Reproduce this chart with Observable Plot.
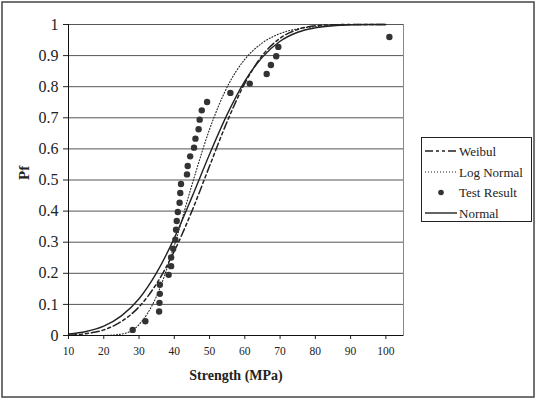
<!DOCTYPE html>
<html>
<head>
<meta charset="utf-8">
<script src="https://cdn.jsdelivr.net/npm/d3@7"></script>
<script src="https://cdn.jsdelivr.net/npm/@observablehq/plot@0.6"></script>
<style>
  html, body { margin: 0; padding: 0; background: #fff; }
  #chart svg { display: block; }
</style>
</head>
<body>
<div id="chart"></div>
<script>
// ---- data ----
const xTicks = [10, 20, 30, 40, 50, 60, 70, 80, 90, 100];
const yTicks = [0, 0.1, 0.2, 0.3, 0.4, 0.5, 0.6, 0.7, 0.8, 0.9, 1];

// Test results (strength MPa, probability of failure)
const testStrength = [28.2, 31.8, 35.7, 35.8, 35.9, 35.9, 38.4, 39.1, 39.1, 39.7,
  40.3, 40.5, 40.7, 41.0, 41.5, 41.7, 41.9, 43.6, 43.8, 44.5,
  45.6, 46.0, 46.9, 47.2, 47.8, 49.3, 55.9, 61.4, 66.2, 67.4,
  68.9, 69.5, 101.0];
const testPf = [0.018, 0.046, 0.077, 0.105, 0.134, 0.163, 0.195, 0.223, 0.251, 0.279,
  0.308, 0.340, 0.368, 0.397, 0.427, 0.458, 0.487, 0.518, 0.545, 0.576,
  0.604, 0.633, 0.663, 0.694, 0.724, 0.751, 0.780, 0.810, 0.841, 0.870,
  0.898, 0.928, 0.960];

// fitted curves read at these strengths
const curveX = [10, 15, 20, 25, 30, 35, 40, 45, 50, 55, 60, 65, 70, 75, 80, 85, 90, 95, 100];
const weibulPf = [0.001, 0.006, 0.018, 0.045, 0.092, 0.167, 0.271, 0.400, 0.545, 0.688,
  0.811, 0.901, 0.956, 0.984, 0.996, 0.999, 1.0, 1.0, 1.0];
const logNormalPf = [0.0, 0.0, 0.0002, 0.0045, 0.035, 0.127, 0.289, 0.484, 0.663, 0.799,
  0.888, 0.941, 0.971, 0.986, 0.993, 0.997, 0.999, 0.9994, 0.9997];
const normalPf = [0.005, 0.013, 0.030, 0.063, 0.118, 0.202, 0.313, 0.445, 0.583, 0.711,
  0.818, 0.895, 0.946, 0.975, 0.989, 0.996, 0.999, 1.0, 1.0];

const legendNames = ["Weibul", "Log Normal", "Test Result", "Normal"];

// ---- build tables ----
const points = testStrength.map((s, i) => ({x: s, y: testPf[i]}));
const weibul = curveX.map((x, i) => ({x, y: weibulPf[i]}));
const logNormal = curveX.map((x, i) => ({x, y: logNormalPf[i]}));
const normal = curveX.map((x, i) => ({x, y: normalPf[i]}));

const W = 536, H = 399;
const FONT = "Liberation Serif, Times New Roman, serif";

const chart = Plot.plot({
  width: W,
  height: H,
  marginLeft: 68,
  marginRight: 133,
  marginTop: 24,
  marginBottom: 64,
  style: {fontFamily: FONT, color: "#222", background: "#fff"},
  x: {domain: [10, 105]},
  y: {domain: [0, 1]},
  marks: [
    Plot.frame({stroke: "#888"}),
    Plot.ruleY(yTicks, {stroke: "#555", strokeWidth: 1}),
    Plot.line(normal, {x: "x", y: "y", stroke: "#222", strokeWidth: 1.4, curve: "monotone-x"}),
    Plot.line(logNormal, {x: "x", y: "y", stroke: "#222", strokeWidth: 1.1, strokeDasharray: "1,2", curve: "monotone-x"}),
    Plot.line(weibul, {x: "x", y: "y", stroke: "#222", strokeWidth: 1.5, strokeDasharray: "8,3,3,3,3,3", curve: "monotone-x"}),
    Plot.dot(points, {x: "x", y: "y", r: 3.2, fill: "#333", stroke: "none"}),
    Plot.axisX({ticks: xTicks, tickSize: 4, tickPadding: 7, fontSize: 11.5, label: null, tickFormat: d => String(d)}),
    Plot.axisY({ticks: yTicks, tickSize: 5, tickPadding: 5, fontSize: 16, label: null, tickFormat: d => d3.format("~g")(d)}),
    Plot.ruleX([10], {stroke: "#111", strokeWidth: 1}),
    Plot.ruleY([0], {stroke: "#111", strokeWidth: 1}),
    Plot.text(["Strength (MPa)"], {frameAnchor: "bottom", dy: 44, fontSize: 14, fontWeight: "bold"}),
    Plot.text(["Pf"], {frameAnchor: "left", dx: -44, rotate: -90, fontSize: 15, fontWeight: "bold"})
  ]
});

document.getElementById("chart").appendChild(chart);

const svg = d3.select(chart);
// outer chart border
svg.append("rect")
  .attr("x", 2).attr("y", 2).attr("width", W - 4).attr("height", H - 4)
  .attr("fill", "none").attr("stroke", "#444").attr("stroke-width", 1.5);

// legend
const lg = svg.append("g")
  .attr("font-family", FONT).attr("font-size", 13).attr("fill", "#222")
  .attr("text-anchor", "start");
lg.append("rect").attr("x", 421.5).attr("y", 137.5).attr("width", 110).attr("height", 84)
  .attr("fill", "#fff").attr("stroke", "#222").attr("stroke-width", 1);
const rowsY = [151, 172, 192.5, 213];
const styles = [
  {dash: "8,3,3,3,3,3", w: 1.5},
  {dash: "1,2", w: 1.1},
  null,
  {dash: null, w: 1.4}
];
legendNames.forEach((name, i) => {
  const y = rowsY[i];
  if (styles[i]) {
    const l = lg.append("line").attr("x1", 425).attr("x2", 457).attr("y1", y).attr("y2", y)
      .attr("stroke", "#222").attr("stroke-width", styles[i].w);
    if (styles[i].dash) l.attr("stroke-dasharray", styles[i].dash);
  } else {
    lg.append("circle").attr("cx", 441).attr("cy", y).attr("r", 2.8).attr("fill", "#333");
  }
  lg.append("text").attr("x", 459).attr("y", y).attr("dy", "0.35em")
    .attr("text-anchor", "start").text(name);
});
</script>
</body>
</html>
